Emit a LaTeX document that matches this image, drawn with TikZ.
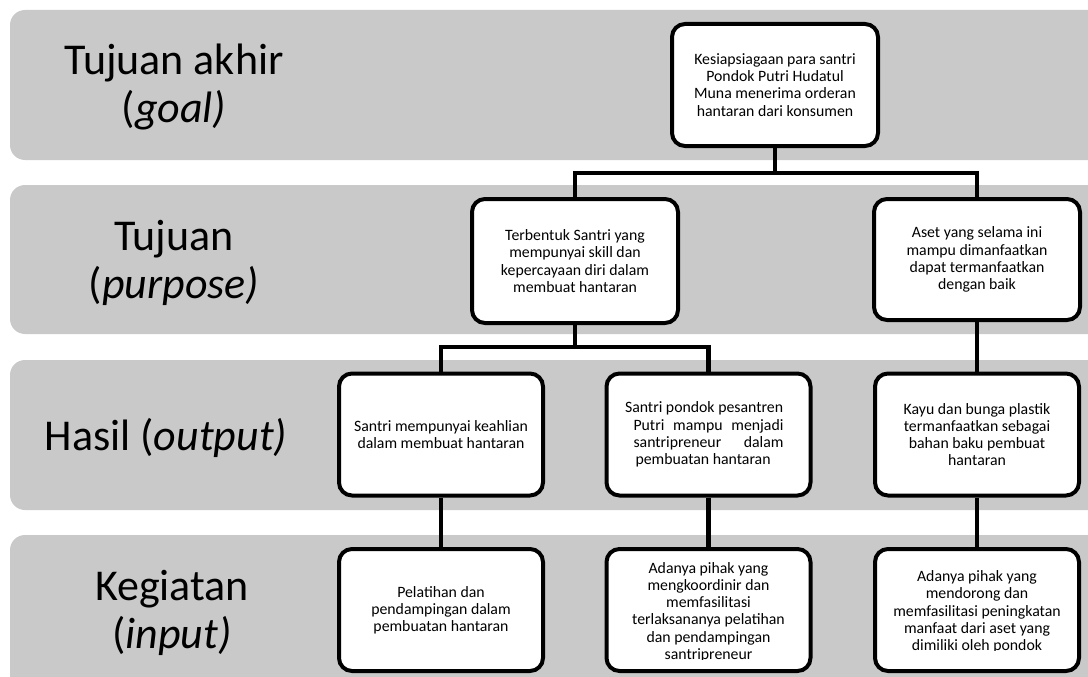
\documentclass[tikz,border=0pt]{standalone}
\usepackage{fontspec}
\setmainfont{Carlito}
\definecolor{bandgray}{RGB}{201,201,201}
\begin{document}
\begin{tikzpicture}[x=1pt,y=-1pt,
  band/.style={fill=bandgray, draw=none, rounded corners=15pt},
  box/.style={draw=black, line width=4pt, fill=white, rounded corners=13pt,
    minimum width=204pt, minimum height=122pt, inner sep=0pt,
    font=\fontsize{15.8}{17.2}\selectfont, align=flush center, text width=195pt},
  boxtext/.style={font=\fontsize{15.8}{17.2}\selectfont, align=flush center, text width=200pt, inner sep=0pt},
  lbl/.style={font=\fontsize{44}{48}\selectfont, align=flush center, text width=300pt, anchor=base, inner sep=0pt},
  conn/.style={line width=4.5pt}
]
\useasboundingbox (0,0) rectangle (1088,677);
% bands
\fill[band] (10,10) rectangle (1120,160);
\fill[band] (10,185) rectangle (1120,334);
\fill[band] (10,360) rectangle (1120,510);
\fill[band] (10,535) rectangle (1120,700);
% labels
\node[lbl] (l1) at (174,75) {Tujuan akhir\\(\textit{goal)}};
\node[lbl] (l2) at (174,250) {Tujuan\\(\textit{purpose)}};
\node[lbl] (l3) at (166,450) {Hasil (\textit{output)}};
\node[lbl] (l4) at (172,600) {Kegiatan\\(\textit{input)}};
% boxes
\node[box, minimum width=206pt] (goal) at (775,85) {Kesiapsiagaan para santri\\Pondok Putri Hudatul\\Muna menerima orderan\\hantaran dari konsumen};
\node[box, minimum width=206pt, minimum height=124pt] (terb) at (575,261) {Terbentuk Santri yang\\mempunyai skill dan\\kepercayaan diri dalam\\membuat hantaran};
\node[box, minimum width=206pt, minimum height=121pt] (aset) at (977,259.5) {Aset yang selama ini\\mampu dimanfaatkan\\dapat termanfaatkan\\dengan baik};
\node[box] (r3a) at (441,434.5) {Santri mempunyai keahlian\\dalam membuat hantaran};
\node[box, align=flush left, text width=150pt] (r3b) at (708.5,434.5) {\hspace*{-8.5pt}Santri pondok pesantren\\\makebox[150pt][l]{Putri\hfill mampu\hfill menjadi}\\\makebox[150pt][l]{santripreneur\hfill dalam}\\\hspace*{2pt}pembuatan hantaran};
\node[box] (r3c) at (977,434.5) {Kayu dan bunga plastik\\termanfaatkan sebagai\\bahan baku pembuat\\hantaran};
\node[box] (r4a) at (441,610) {Pelatihan dan\\pendampingan dalam\\pembuatan hantaran};
\node[box] (r4b) at (708.5,610) {};
\node[box] (r4c) at (977,610) {};
\begin{scope}
  \clip (606,550) rectangle (811,659.2);
  \node[boxtext, anchor=base] (t4b) at (708.5,573.3) {Adanya pihak yang\\mengkoordinir dan\\memfasilitasi\\terlaksananya pelatihan\\dan pendampingan\\santripreneur};
\end{scope}
\begin{scope}
  \clip (875,550) rectangle (1079,650.4);
  \node[boxtext, anchor=base] (t4c) at (977,581.7) {Adanya pihak yang\\mendorong dan\\memfasilitasi peningkatan\\manfaat dari aset yang\\dimiliki oleh pondok};
\end{scope}
% connectors
\coordinate (j1) at (775,173);
\coordinate (j2) at (575,347);
\draw[conn] (goal.south) -- (j1);
\draw[conn] (terb.north) |- (j1) -| (aset.north);
\draw[conn] (terb.south) -- (j2);
\draw[conn] (r3a.north) |- (j2) -| (r3b.north);
\draw[conn] (aset.south) -- (r3c.north);
\draw[conn] (r3a.south) -- (r4a.north);
\draw[conn] (r3b.south) -- (r4b.north);
\draw[conn] (r3c.south) -- (r4c.north);
\end{tikzpicture}
\end{document}
